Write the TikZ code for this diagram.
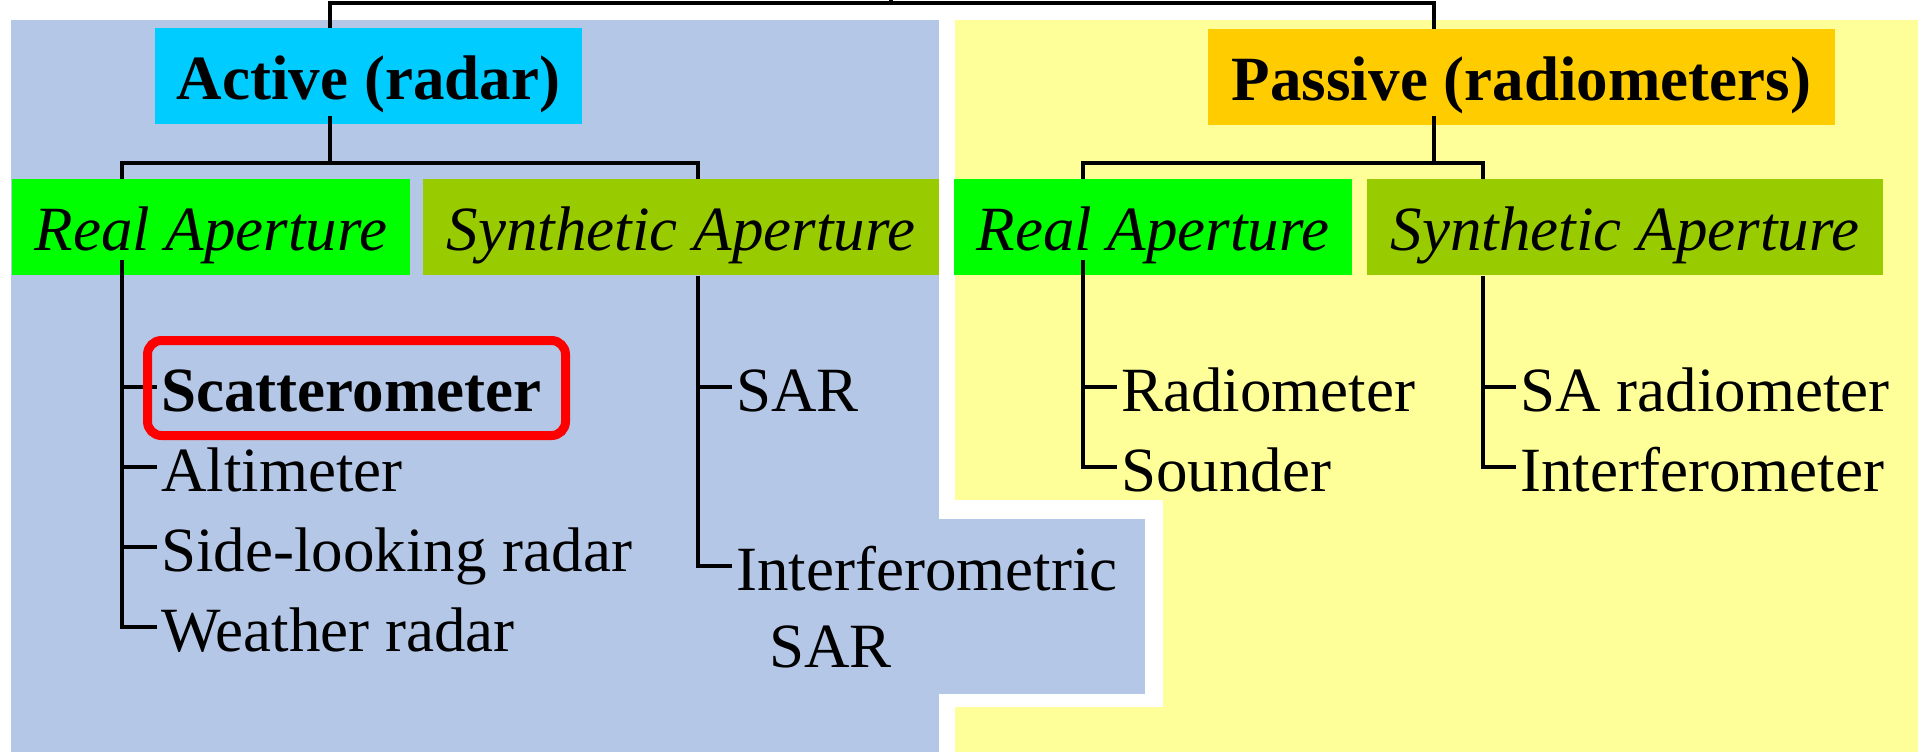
\documentclass[tikz,border=0pt]{standalone}
\usepackage{fontspec}
\setmainfont{Liberation Serif}
\definecolor{blu}{HTML}{B4C7E7}
\definecolor{yel}{HTML}{FFFF99}
\definecolor{cyanbox}{HTML}{00CCFF}
\definecolor{orabox}{HTML}{FFCC00}
\definecolor{grnbox}{HTML}{00FF00}
\definecolor{olvbox}{HTML}{99CC00}
\begin{document}
\begin{tikzpicture}[x=0.5pt,y=-0.5pt,
  hdrb/.style={font=\fontsize{31.5pt}{38pt}\selectfont\bfseries, inner sep=0pt, minimum height=48pt, text height=24pt, text depth=1pt, anchor=center},
  hdri/.style={font=\fontsize{31.5pt}{38pt}\selectfont\itshape, inner sep=0pt, minimum height=48pt, text height=24pt, text depth=1pt, anchor=center},
  item/.style={font=\fontsize{31.5pt}{38pt}\selectfont, inner xsep=2pt, inner ysep=0pt, text height=26pt, text depth=2pt, anchor=base west},
  itemb/.style={item, font=\fontsize{31.5pt}{38pt}\selectfont\bfseries},
  conn/.style={line width=2.4pt},
  hilite/.style={draw=red, line width=4.5pt, rounded corners=7pt, inner sep=0pt}
]
\useasboundingbox (0,0) rectangle (1918,752);
\clip (0,0) rectangle (1918,752);
% background regions
\fill[yel] (955,20) rectangle (1918,752);
\fill[blu] (11,20) rectangle (939,752);
\fill[white] (939,500) rectangle (1163,707);
\fill[blu] (930,519) rectangle (1145,694);

% header boxes
\node[hdrb, fill=cyanbox, minimum width=213.5pt] (act) at (368.5,76) {Active (radar)};
\node[hdrb, fill=orabox, minimum width=313.5pt] (pas) at (1521.5,77) {Passive (radiometers)};
\node[hdri, fill=grnbox, minimum width=199pt] (ra) at (211,227) {Real Aperture};
\node[hdri, fill=olvbox, minimum width=258pt] (sa) at (681,227) {Synthetic Aperture};
\node[hdri, fill=grnbox, minimum width=199pt] (rp) at (1153,227) {Real Aperture};
\node[hdri, fill=olvbox, minimum width=258pt] (sp) at (1625,227) {Synthetic Aperture};

% items
\node[itemb] (sca) at (157,411) {Scatterometer};
\node[item] (alt) at (157,491) {Altimeter};
\node[item] (sid) at (157,571) {Side-looking radar};
\node[item] (wea) at (157,651) {Weather radar};
\node[item] (sar) at (732,411) {SAR};
\node[item] (ifs) at (732,590) {Interferometric};
\node[item] (ifs2) at (765,667) {SAR};
\node[item] (rad) at (1117,411) {Radiometer};
\node[item] (sou) at (1117,491) {Sounder};
\node[item] (sarad) at (1516,411) {SA radiometer};
\node[item] (ifm) at (1516,491) {Interferometer};

% tree connectors
\coordinate (root) at (891,0);
\coordinate (rootbar) at (891,3);
\coordinate (aX) at (330,3);
\coordinate (pX) at (1434,3);
\coordinate (aBar) at (330,163);
\coordinate (pBar) at (1434,163);
\coordinate (raX) at (122,260);
\coordinate (saX) at (698,276);
\coordinate (rpX) at (1083,260);
\coordinate (spX) at (1483,276);

\draw[conn] (root) -- (rootbar);
\draw[conn] (act.north -| aX) -- (aX) -- (pX) -- (pas.north -| pX);
\draw[conn] ([yshift=4pt]act.south -| aBar) -- (aBar);
\draw[conn] ([yshift=4.5pt]pas.south -| pBar) -- (pBar);
\draw[conn] (ra.north -| raX) |- (aBar) -| (sa.north -| saX);
\draw[conn] (rp.north -| rpX) |- (pBar) -| (sp.north -| spX);

\draw[conn] (raX) |- (wea.west);
\draw[conn] (sca.west -| raX) -- (sca.west);
\draw[conn] (alt.west -| raX) -- (alt.west);
\draw[conn] (sid.west -| raX) -- (sid.west);
\draw[conn] (saX) |- (ifs.west);
\draw[conn] (sar.west -| saX) -- (sar.west);
\draw[conn] (rpX) |- (sou.west);
\draw[conn] (rad.west -| rpX) -- (rad.west);
\draw[conn] (spX) |- (ifm.west);
\draw[conn] (sarad.west -| spX) -- (sarad.west);

% highlight around Scatterometer
\node[hilite, minimum width=209pt, minimum height=47.5pt] (hl) at (356.5,388) {};
\end{tikzpicture}
\end{document}
